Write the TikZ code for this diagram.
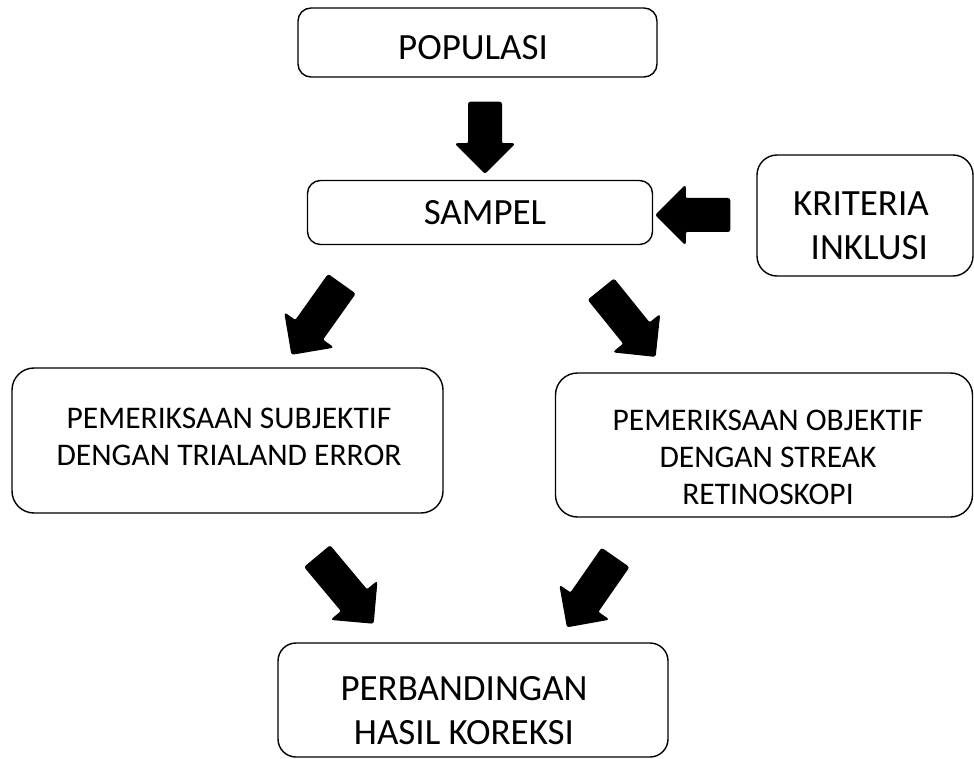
\documentclass[tikz,border=0pt]{standalone}
\usepackage{fontspec}
\setmainfont{Carlito}
\usetikzlibrary{shapes.arrows}

\tikzset{
  box/.style={draw, line width=1.4pt, rounded corners=13pt, inner sep=0pt},
  bigtxt/.style={inner sep=0pt, align=center, font=\fontsize{37}{44}\selectfont},
  smalltxt/.style={inner sep=0pt, align=center, font=\fontsize{31.5}{37}\selectfont},
  blockarrow/.style={single arrow, fill=black, draw=black, line width=1pt, rounded corners=2pt,
    inner sep=16pt, single arrow head extend=13pt, minimum width=58pt}
}

\begin{document}
\begin{tikzpicture}[x=1pt, y=-1pt]
%\draw[help lines] (0,0) grid[step=50] (974,759);
\useasboundingbox (0,0) rectangle (974,759);

% boxes
\node[box, minimum width=359pt, minimum height=69pt] (populasi) at (477.5,42.5) {};
\node[box, bigtxt, minimum width=345pt, minimum height=64pt] (sampel) at (480,212.5) {\hspace*{10pt}SAMPEL};
\node[box, minimum width=216pt, minimum height=121pt, rounded corners=20pt] (kriteria) at (865,215.5) {};
\node[box, minimum width=431pt, minimum height=145pt, rounded corners=22pt] (subjektif) at (227.5,440.5) {};
\node[box, minimum width=417pt, minimum height=144pt, rounded corners=22pt] (objektif) at (764,445) {};
\node[box, minimum width=390pt, minimum height=114pt, rounded corners=18pt] (hasil) at (473,700) {};

% texts
\node[bigtxt] (populasi txt) at (473,47.5) {POPULASI};
\node[bigtxt] (kriteria txt) at (861,226) {KRITERIA\\\hspace*{0.45em}INKLUSI};
\node[smalltxt] (subjektif txt) at (229,437) {PEMERIKSAAN SUBJEKTIF\\DENGAN TRIALAND ERROR};
\node[smalltxt] (objektif txt) at (768,457) {PEMERIKSAAN OBJEKTIF\\DENGAN STREAK\\RETINOSKOPI};
\node[bigtxt] (hasil txt) at (464,711) {PERBANDINGAN\\HASIL KOREKSI};

% arrows
\node[blockarrow, minimum height=71pt, rotate=-90] (a1) at (485,129.5) {};
\node[blockarrow, minimum height=74pt, rotate=180] (a2) at (701,215) {};
\node[blockarrow, minimum height=86pt, minimum width=56pt, rotate=234.6] (a3) at (321.5,312.5) {};
\node[blockarrow, minimum height=86pt, minimum width=56pt, rotate=-51.1] (a4) at (623,316.5) {};
\node[blockarrow, minimum height=87pt, minimum width=56pt, rotate=-50.1] (a5) at (340,583.5) {};
\node[blockarrow, minimum height=84pt, minimum width=56pt, rotate=235.2] (a6) at (596,585.5) {};

\end{tikzpicture}
\end{document}
